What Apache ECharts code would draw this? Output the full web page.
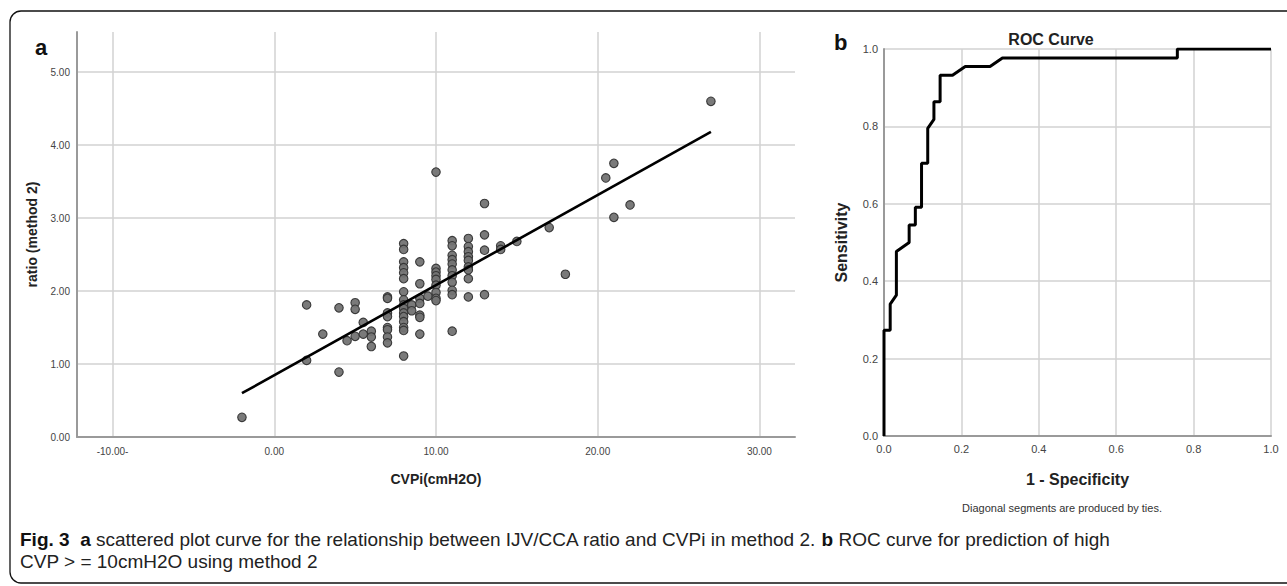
<!DOCTYPE html>
<html><head><meta charset="utf-8">
<script src="https://cdn.jsdelivr.net/npm/echarts@6/dist/echarts.min.js"></script>
<style>html,body{margin:0;padding:0;background:#fff;overflow:hidden}#c{width:1287px;height:586px}</style>
</head><body><div id="c"></div>
<script>
// ---- Panel a: scatter (CVPi vs ratio, method 2) ----
const cvpValues = [
  -2,
  2, 2,
  3,
  4, 4,
  4.5,
  5, 5, 5,
  5.5, 5.5,
  6, 6, 6,
  7, 7, 7, 7, 7, 7, 7, 7,
  8, 8, 8, 8, 8, 8, 8, 8, 8, 8, 8, 8, 8, 8, 8, 8,
  8.5, 8.5,
  9, 9, 9, 9, 9, 9, 9,
  9.5,
  10, 10, 10, 10, 10, 10, 10, 10, 10,
  11, 11, 11, 11, 11, 11, 11, 11, 11, 11, 11,
  12, 12, 12, 12, 12, 12, 12, 12, 12,
  13, 13, 13, 13,
  14, 14,
  15,
  17,
  18,
  20.5,
  21, 21,
  22,
  27
];
const ratioValues = [
  0.27,
  1.81, 1.05,
  1.41,
  1.77, 0.89,
  1.32,
  1.84, 1.75, 1.38,
  1.57, 1.41,
  1.45, 1.37, 1.24,
  1.92, 1.90, 1.70, 1.65, 1.50, 1.47, 1.37, 1.29,
  2.65, 2.57, 2.40, 2.32, 2.25, 2.17, 1.99, 1.88, 1.81, 1.76, 1.70, 1.65, 1.58, 1.50, 1.46, 1.11,
  1.81, 1.73,
  2.40, 2.10, 1.90, 1.83, 1.67, 1.64, 1.41,
  1.93,
  3.63, 2.31, 2.26, 2.21, 2.16, 2.08, 1.98, 1.90, 1.87,
  2.69, 2.62, 2.49, 2.43, 2.37, 2.29, 2.21, 2.12, 2.01, 1.95, 1.45,
  2.72, 2.61, 2.54, 2.47, 2.42, 2.33, 2.29, 2.17, 1.92,
  3.20, 2.77, 2.56, 1.95,
  2.62, 2.57,
  2.68,
  2.87,
  2.23,
  3.55,
  3.75, 3.01,
  3.18,
  4.60
];
const fitX = [-2, 27];
const fitY = [0.60, 4.18];
const xTickValues = [-10, 0, 10, 20, 30];
const xTickLabels = ['-10.00-', '0.00', '10.00', '20.00', '30.00'];
const yTickValues = [0, 1, 2, 3, 4, 5];
const yTickLabels = ['0.00', '1.00', '2.00', '3.00', '4.00', '5.00'];

// ---- Panel b: ROC curve ----
const rocFPR  = [0, 0, 0.016, 0.016, 0.032, 0.032, 0.065, 0.065, 0.081, 0.081, 0.097, 0.097, 0.113, 0.113, 0.129, 0.129, 0.145, 0.145, 0.177, 0.210, 0.274, 0.306, 0.758, 0.758, 1.0];
const rocSens = [0, 0.273, 0.273, 0.341, 0.364, 0.477, 0.500, 0.545, 0.545, 0.591, 0.591, 0.705, 0.705, 0.795, 0.818, 0.864, 0.864, 0.932, 0.932, 0.955, 0.955, 0.977, 0.977, 1.0, 1.0];
const rocTickValues = [0, 0.2, 0.4, 0.6, 0.8, 1.0];
const rocTickLabels = ['0.0', '0.2', '0.4', '0.6', '0.8', '1.0'];

const captionLine1 = '{b|Fig. 3}  {b|a} scattered plot curve for the relationship between IJV/CCA ratio and CVPi in method 2. {b|b} ROC curve for prediction of high';
const captionLine2 = 'CVP > = 10cmH2O using method 2';

const scatterData = cvpValues.map((x, i) => [x, ratioValues[i]]);
const fitData = fitX.map((x, i) => [x, fitY[i]]);
const rocData = rocFPR.map((x, i) => [x, rocSens[i]]);

const FONT = 'Liberation Sans, Arial, sans-serif';
const gridColor = '#d2d2d2';
const axisColor = '#9a9a9a';

function labelFrom(values, labels) {
  return v => {
    for (let i = 0; i < values.length; i++) if (Math.abs(values[i] - v) < 1e-6) return labels[i];
    return '';
  };
}

const chart = echarts.init(document.getElementById('c'), null, {renderer: 'svg'});
chart.setOption({
  animation: false,
  backgroundColor: '#fff',
  title: {
    text: 'ROC Curve', left: 1046, top: 26, textAlign: 'center',
    textStyle: {fontFamily: FONT, fontSize: 16, fontWeight: 'bold', color: '#222'}
  },
  grid: [
    {left: 77, top: 32, width: 718, height: 405, containLabel: false},
    {left: 884, top: 49, width: 387, height: 387, containLabel: false}
  ],
  xAxis: [
    {
      gridIndex: 0, type: 'value', min: -12.2, max: 32.2,
      name: 'CVPi(cmH2O)', nameLocation: 'middle', nameGap: 35,
      nameTextStyle: {fontFamily: FONT, fontSize: 14, fontWeight: 'bold', color: '#222'},
      axisLine: {show: true, onZero: false, lineStyle: {color: axisColor, width: 2}},
      axisTick: {show: false, customValues: xTickValues},
      axisLabel: {customValues: xTickValues, formatter: labelFrom(xTickValues, xTickLabels), fontFamily: FONT, fontSize: 10, color: '#444', margin: 9},
      splitLine: {show: true, lineStyle: {color: gridColor, width: 1.5}}
    },
    {
      gridIndex: 1, type: 'value', min: 0, max: 1, interval: 0.2,
      name: '1 - Specificity', nameLocation: 'middle', nameGap: 35,
      nameTextStyle: {fontFamily: FONT, fontSize: 16, fontWeight: 'bold', color: '#222'},
      axisLine: {show: true, onZero: false, lineStyle: {color: axisColor, width: 2}},
      axisTick: {show: false},
      axisLabel: {formatter: labelFrom(rocTickValues, rocTickLabels), fontFamily: FONT, fontSize: 11, color: '#444', margin: 7, showMaxLabel: true, showMinLabel: true},
      splitLine: {show: true, showMinLine: false, showMaxLine: true, lineStyle: {color: gridColor, width: 1.5}}
    }
  ],
  yAxis: [
    {
      gridIndex: 0, type: 'value', min: 0, max: 5.55,
      name: 'ratio (method 2)', nameLocation: 'middle', nameGap: 38,
      nameTextStyle: {fontFamily: FONT, fontSize: 14, fontWeight: 'bold', color: '#222'},
      axisLine: {show: true, onZero: false, lineStyle: {color: axisColor, width: 2}},
      axisTick: {show: false, customValues: yTickValues},
      axisLabel: {customValues: yTickValues, formatter: labelFrom(yTickValues, yTickLabels), fontFamily: FONT, fontSize: 10, color: '#444', margin: 7},
      splitLine: {show: true, lineStyle: {color: gridColor, width: 1.5}}
    },
    {
      gridIndex: 1, type: 'value', min: 0, max: 1, interval: 0.2,
      name: 'Sensitivity', nameLocation: 'middle', nameGap: 35,
      nameTextStyle: {fontFamily: FONT, fontSize: 16, fontWeight: 'bold', color: '#222'},
      axisLine: {show: true, onZero: false, lineStyle: {color: axisColor, width: 2}},
      axisTick: {show: false},
      axisLabel: {formatter: labelFrom(rocTickValues, rocTickLabels), fontFamily: FONT, fontSize: 11, color: '#444', margin: 6},
      splitLine: {show: true, showMinLine: false, showMaxLine: true, lineStyle: {color: gridColor, width: 1.5}}
    }
  ],
  series: [
    {
      type: 'scatter', xAxisIndex: 0, yAxisIndex: 0, data: scatterData,
      symbol: 'circle', symbolSize: 8.5,
      itemStyle: {color: '#737373', borderColor: '#333', borderWidth: 1.1, opacity: 0.95},
      z: 3
    },
    {
      type: 'line', xAxisIndex: 0, yAxisIndex: 0, data: fitData,
      showSymbol: false, symbol: 'none',
      lineStyle: {color: '#000', width: 2.6}, z: 4
    },
    {
      type: 'line', xAxisIndex: 1, yAxisIndex: 1, data: rocData,
      showSymbol: false, symbol: 'none',
      lineStyle: {color: '#000', width: 3}, z: 4
    }
  ],
  graphic: [
    {type: 'rect', shape: {x: 10, y: 11, width: 1330, height: 572, r: 11},
     style: {fill: 'none', stroke: '#111', lineWidth: 1.3}, silent: true},
    {type: 'text', x: 35, y: 36, style: {text: 'a', font: 'bold 22px ' + FONT, fill: '#111'}},
    {type: 'text', x: 834, y: 31, style: {text: 'b', font: 'bold 22px ' + FONT, fill: '#111'}},
    {type: 'text', x: 1062, y: 502, style: {text: 'Diagonal segments are produced by ties.', font: '11px ' + FONT, fill: '#333', textAlign: 'center'}},
    {type: 'text', x: 20, y: 530, style: {
      text: captionLine1, font: '19px ' + FONT, fill: '#222',
      rich: {b: {fontWeight: 'bold', fontFamily: FONT, fontSize: 19, fill: '#111'}}
    }},
    {type: 'text', x: 20, y: 552, style: {
      text: captionLine2, font: '19px ' + FONT, fill: '#222'
    }}
  ]
});
</script>
</body></html>
